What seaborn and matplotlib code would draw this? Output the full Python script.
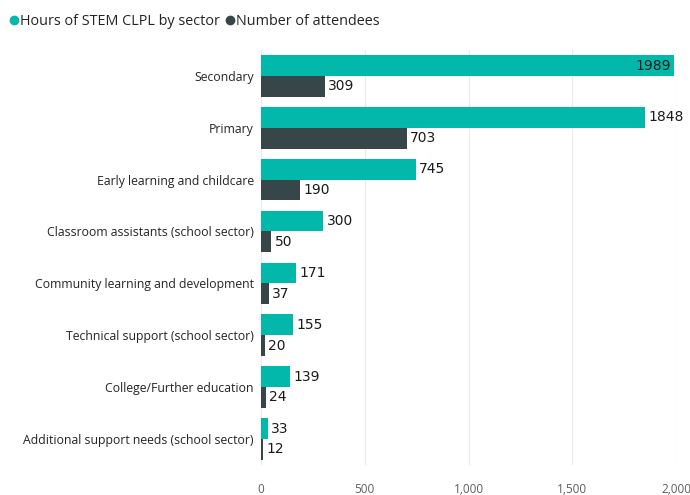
import matplotlib
matplotlib.use("Agg")
import matplotlib.pyplot as plt
from matplotlib.lines import Line2D
import seaborn as sns
import pandas as pd

sectors = [
    "Secondary",
    "Primary",
    "Early learning and childcare",
    "Classroom assistants (school sector)",
    "Community learning and development",
    "Technical support (school sector)",
    "College/Further education",
    "Additional support needs (school sector)",
]
hours = [1989, 1848, 745, 300, 171, 155, 139, 33]
attendees = [309, 703, 190, 50, 37, 20, 24, 12]
series_names = ["Hours of STEM CLPL by sector", "Number of attendees"]
x_ticks = [0, 500, 1000, 1500, 2000]

colors = ["#01B8AA", "#374649"]

df = pd.DataFrame({
    "sector": sectors * 2,
    "value": hours + attendees,
    "series": [series_names[0]] * len(sectors) + [series_names[1]] * len(sectors),
})

sns.set_theme(style="white")
plt.rcParams["font.family"] = ["Open Sans", "DejaVu Sans"]

fig = plt.figure(figsize=(6.9, 4.95), dpi=100)
ax = fig.add_axes([0.378, 0.061, 0.602, 0.838])

sns.barplot(data=df, y="sector", x="value", hue="series", order=sectors,
            hue_order=series_names, palette=colors, orient="h",
            width=0.8, saturation=1, legend=False, linewidth=0,
            ax=ax, zorder=2)

ax.set_xlim(0, 2000)
ax.set_ylim(len(sectors) - 0.5, -0.5)
ax.set_xticks(x_ticks)
ax.set_xticklabels([f"{t:,}" for t in x_ticks], color="#605E5C", fontsize=8.5)
ax.tick_params(axis="y", labelsize=8.8, labelcolor="#252423", length=0, pad=5)
ax.tick_params(axis="x", length=0, pad=13)
ax.grid(axis="x", color="#EAEAEA", linewidth=0.8, zorder=0)
ax.set_xlabel("")
ax.set_ylabel("")
for s in ax.spines.values():
    s.set_visible(False)

xmax = ax.get_xlim()[1]
for container in ax.containers:
    for bar in container:
        w = bar.get_width()
        yc = bar.get_y() + bar.get_height() / 2
        label = f"{int(round(w))}"
        if w > 0.93 * xmax:
            ax.text(w - 12, yc, label, ha="right", va="center",
                    fontsize=10, color="#1A1A1A", family=["DejaVu Sans"])
        else:
            ax.text(w + 16, yc, label, ha="left", va="center",
                    fontsize=10, color="#1A1A1A", family=["DejaVu Sans"])

handles = [Line2D([0], [0], marker="o", linestyle="", markersize=6,
                  markerfacecolor=c, markeredgecolor=c) for c in colors]
fig.legend(handles, series_names, loc="upper left", bbox_to_anchor=(0.0, 0.99),
           ncol=2, frameon=False, fontsize=10.4, handletextpad=0.0,
           columnspacing=0.3, handlelength=0.8, borderaxespad=0.2,
           labelcolor="#252423")

fig.savefig("out.png", dpi=100)
